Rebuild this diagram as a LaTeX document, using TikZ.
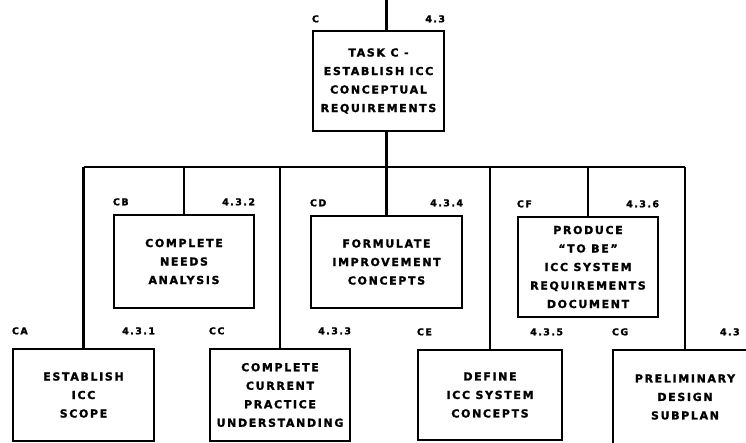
\documentclass[tikz,border=0pt]{standalone}
\usepackage{fontspec}
\newfontfamily\chartfont[LetterSpace=15, BoldFont={DejaVu Sans Bold}, BoldFeatures={FakeBold=1.5}]{DejaVu Sans}
\usetikzlibrary{positioning}

\begin{document}
\begin{tikzpicture}[x=1pt, y=-1pt,
taskbox/.style={rectangle, draw=black, line width=2.4pt, inner sep=0pt, align=center, font=\chartfont\bfseries\fontsize{11}{18.5}\selectfont},
tag/.style={inner sep=0pt, font=\chartfont\bfseries\fontsize{9.5}{10}\selectfont},
wire/.style={line width=2.4pt},
]
\useasboundingbox (0,0) rectangle (746,442);
\clip (0,0) rectangle (746,442);

% boxes
\node[taskbox, minimum width=131pt, minimum height=100pt] (C)  at (378.5,81)  {TASK C -\\ESTABLISH ICC\\CONCEPTUAL\\REQUIREMENTS};
\node[taskbox, minimum width=140pt, minimum height=93pt]  (CB) at (184,261.5)  {COMPLETE\\NEEDS\\ANALYSIS};
\node[taskbox, minimum width=151pt, minimum height=92pt]  (CD) at (386.5,262)  {FORMULATE\\IMPROVEMENT\\CONCEPTS};
\node[taskbox, minimum width=140pt, minimum height=100pt] (CF) at (588,267)    {PRODUCE\\“TO BE”\\ICC SYSTEM\\REQUIREMENTS\\DOCUMENT};
\node[taskbox, minimum width=141pt, minimum height=92pt]  (CA) at (83.5,395)   {ESTABLISH\\ICC\\SCOPE};
\node[taskbox, minimum width=140pt, minimum height=92pt]  (CC) at (280,395)    {COMPLETE\\CURRENT\\PRACTICE\\UNDERSTANDING};
\node[taskbox, minimum width=144pt, minimum height=90pt]  (CE) at (490,395)    {DEFINE\\ICC SYSTEM\\CONCEPTS};
\node[taskbox, minimum width=144pt, minimum height=94pt]  (CG) at (685,397)    {PRELIMINARY\\DESIGN\\SUBPLAN};

% ids and numbers
\node[tag, anchor=base west] (C-id) at ([yshift=7.5pt]C.north west) {C};
\node[tag, anchor=base east] (C-no) at ([yshift=7.5pt]C.north east) {4.3};
\foreach \b/\n in {CB/4.3.2, CD/4.3.4, CF/4.3.6} {
  \node[tag, anchor=base west] (\b-id) at ([yshift=8.5pt]\b.north west) {\b};
  \node[tag, anchor=base east] (\b-no) at ([yshift=8.5pt]\b.north east) {\n};
}
\foreach \b/\n in {CA/4.3.1, CC/4.3.3, CE/4.3.5} {
  \node[tag, anchor=base west] (\b-id) at ([yshift=13.5pt]\b.north west) {\b};
  \node[tag, anchor=base east] (\b-no) at ([yshift=13.5pt]\b.north east) {\n};
}
\node[tag, anchor=base west] (CG-id) at ([yshift=13.5pt]CG.north west) {CG};
\node[tag, anchor=base west] (CG-no) at ([xshift=108pt, yshift=13.5pt]CG.north west) {4.3};

% connectors
\coordinate (feed) at (386.5,0);
\coordinate (bus)  at (0,167);
\draw[wire] (feed) -- (feed |- C.north);
\draw[wire] (C.south -| CD.north) -- (CD.north);
\draw[wire] (CA.north |- bus) -- (CG.north |- bus);
\foreach \b in {CA,CB,CC,CE,CF,CG}
  \draw[wire] (\b.north) -- (\b.north |- bus);

\end{tikzpicture}
\end{document}
